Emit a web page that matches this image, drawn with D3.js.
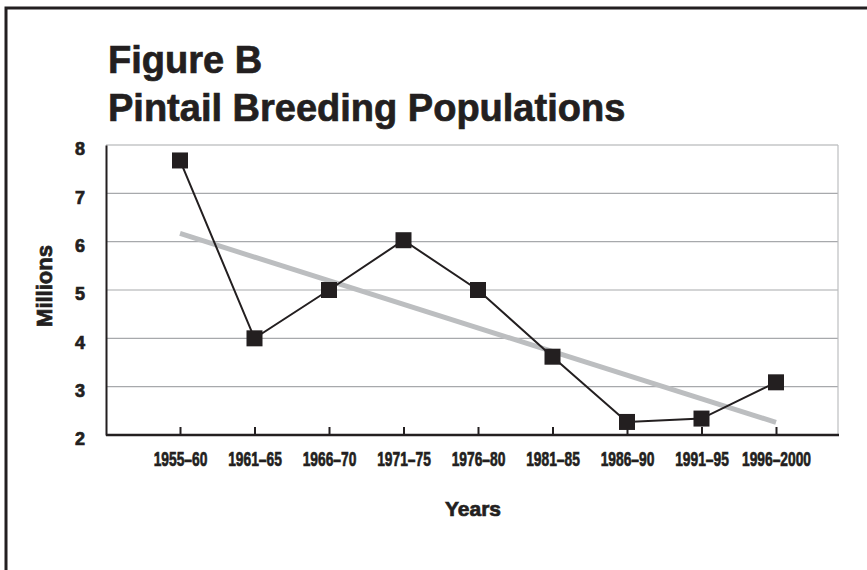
<!DOCTYPE html>
<html lang="en">
<head>
<meta charset="UTF-8">
<title>Pintail Breeding Populations</title>
<script src="https://d3js.org/d3.v7.min.js"></script>
<style>
    body { margin: 0; background: #fff; }
    .title { font-family: "Liberation Sans", Arial, sans-serif; font-weight: bold; fill: #231f20; }
    .heavy { stroke: #231f20; stroke-width: 0.7px; }
</style>
</head>
<body>
<script>
    // data
    var periods = ['1955–60', '1961–65', '1966–70', '1971–75', '1976–80', '1981–85', '1986–90', '1991–95', '1996–2000'];
    var millions = [7.68, 4.0, 5.0, 6.03, 5.0, 3.62, 2.27, 2.34, 3.09];
    // gray trend line, start and end
    var trendPeriods = ['1955–60', '1996–2000'];
    var trendValues = [6.17, 2.26];
    var yTicks = [2, 3, 4, 5, 6, 7, 8];

    var width = 867, height = 570;
    var svg = d3.select('body').append('svg')
        .attr('width', width)
        .attr('height', height);

    // outer frame
    svg.append('rect')
        .attr('x', 6).attr('y', 8)
        .attr('width', 900).attr('height', 600)
        .attr('fill', 'none')
        .attr('stroke', '#231f20')
        .attr('stroke-width', 3);

    svg.append('text').attr('class', 'title heavy')
        .attr('x', 108).attr('y', 73)
        .style('font-size', '38px')
        .text('Figure B');
    svg.append('text').attr('class', 'title heavy')
        .attr('x', 108).attr('y', 121)
        .style('font-size', '38px')
        .text('Pintail Breeding Populations');

    var plotLeft = 106, plotRight = 838, plotTop = 145, plotBottom = 435;

    var x = d3.scalePoint().domain(periods).range([180, 776]);
    var y = d3.scaleLinear().domain([2, 8]).range([plotBottom, plotTop]);

    // gridlines
    svg.append('g')
        .selectAll('line')
        .data(yTicks.slice(1))
        .enter().append('line')
        .attr('x1', plotLeft).attr('x2', plotRight)
        .attr('y1', function(d) { return y(d); })
        .attr('y2', function(d) { return y(d); })
        .attr('stroke', '#a7a9ac')
        .attr('stroke-width', 1.2);

    svg.append('line')
        .attr('x1', plotRight).attr('x2', plotRight)
        .attr('y1', plotTop).attr('y2', plotBottom)
        .attr('stroke', '#bcbec0')
        .attr('stroke-width', 1.2);

    // y axis
    var yAxis = svg.append('g')
        .attr('transform', 'translate(' + plotLeft + ',0)')
        .call(d3.axisLeft(y).tickValues(yTicks).tickFormat(d3.format('d')).tickSize(0).tickPadding(21));
    yAxis.select('.domain').attr('stroke', '#231f20').attr('stroke-width', 2);
    yAxis.selectAll('text')
        .attr('class', 'title heavy')
        .attr('dy', '0.55em')
        .style('font-size', '18px');

    // x axis
    var xAxis = svg.append('g')
        .attr('transform', 'translate(0,' + plotBottom + ')')
        .call(d3.axisBottom(x).tickSize(-8).tickPadding(0).tickSizeOuter(0));
    xAxis.select('.domain')
        .attr('d', 'M' + plotLeft + ',0H' + (plotRight + 1))
        .attr('stroke', '#231f20').attr('stroke-width', 2.5);
    xAxis.selectAll('.tick line').attr('stroke', '#231f20').attr('stroke-width', 2);
    xAxis.selectAll('text')
        .attr('class', 'title heavy')
        .attr('y', 31).attr('dy', 0)
        .attr('transform', 'scale(0.69,1)')
        .style('font-size', '20px');

    // axis titles
    svg.append('text').attr('class', 'title heavy')
        .attr('transform', 'translate(52,286) rotate(-90)')
        .attr('text-anchor', 'middle')
        .style('font-size', '22px')
        .text('Millions');
    svg.append('text').attr('class', 'title heavy')
        .attr('x', 473).attr('y', 516)
        .attr('text-anchor', 'middle')
        .style('font-size', '21px')
        .text('Years');

    // trend line
    svg.append('path')
        .datum(trendPeriods.map(function(p, i) { return {p: p, v: trendValues[i]}; }))
        .attr('fill', 'none')
        .attr('stroke', '#bcbec0')
        .attr('stroke-width', 5)
        .attr('d', d3.line()
            .x(function(d) { return x(d.p); })
            .y(function(d) { return y(d.v); }));

    var series = periods.map(function(p, i) { return {p: p, v: millions[i]}; });

    svg.append('path')
        .datum(series)
        .attr('fill', 'none')
        .attr('stroke', '#231f20')
        .attr('stroke-width', 2)
        .attr('d', d3.line()
            .x(function(d) { return x(d.p); })
            .y(function(d) { return y(d.v); }));

    var sq = 16;
    svg.append('g')
        .selectAll('rect')
        .data(series)
        .enter().append('rect')
        .attr('x', function(d) { return x(d.p) - sq / 2; })
        .attr('y', function(d) { return y(d.v) - sq / 2; })
        .attr('width', sq).attr('height', sq)
        .attr('fill', '#231f20');
</script>
</body>
</html>
